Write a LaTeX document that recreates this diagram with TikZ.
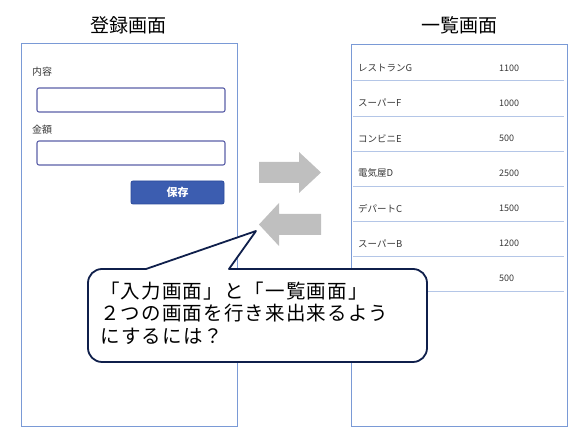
\documentclass[tikz,border=0pt]{standalone}
\usepackage{fontspec}
\setmainfont{Noto Sans CJK JP}
\definecolor{panelblue}{HTML}{7A9AD6}
\definecolor{boxborder}{HTML}{5B5FA8}
\definecolor{btnfill}{HTML}{3C5DB0}
\definecolor{btnborder}{HTML}{2B4A9A}
\definecolor{sepline}{HTML}{B4C6E7}
\definecolor{arrowgray}{HTML}{BFBFBF}
\definecolor{calloutborder}{HTML}{0F1F4B}
\definecolor{smalltext}{HTML}{383838}
\begin{document}
\begin{tikzpicture}[x=1pt,y=1pt,
  panel/.style={draw=panelblue,line width=1pt},
  inbox/.style={draw=boxborder,line width=1.1pt,rounded corners=2pt},
  small/.style={font=\fontsize{9.5}{11}\selectfont,text=smalltext,inner sep=0pt,anchor=west},
  title/.style={font=\fontsize{19}{22}\selectfont,inner sep=0pt},
  sepl/.style={draw=sepline,line width=1pt},
  grayarrow/.style={fill=arrowgray,draw=none},
  callout/.style={draw=calloutborder,fill=white,line width=1.8pt,line join=round},
  bigtext/.style={font=\fontsize{19.5}{23}\selectfont\addfontfeatures{LetterSpace=6},inner sep=0pt,anchor=base west}
]
\useasboundingbox (0,0) rectangle (586,446);
% titles
\node[title] (t1) at (128,421) {登録画面};
\node[title] (t2) at (459,421) {一覧画面};
% left panel
\path[panel] (21,19) rectangle (237,402);
\node[small,font=\fontsize{10}{12}\selectfont] (l1) at (32,374) {内容};
\path[inbox] (37,334) rectangle (225,358);
\node[small,font=\fontsize{10}{12}\selectfont] (l2) at (32,316) {金額};
\path[inbox] (37,281) rectangle (225,305);
\node[fill=btnfill,draw=btnborder,line width=0.8pt,rounded corners=2pt,minimum width=93pt,minimum height=23pt,inner sep=0pt,text=white,font=\fontsize{11}{13}\selectfont\bfseries] (save) at (177.5,253.5) {保存};
% right panel
\path[panel] (351,19) rectangle (567,401);
\foreach \i/\name/\val in {0/レストランG/1100,1/スーパーF/1000,2/コンビニE/500,3/電気屋D/2500,4/デパートC/1500,5/スーパーB/1200,6//500}{
  \pgfmathsetmacro{\ys}{365-35.1*\i}
  \pgfmathsetmacro{\yt}{\ys+13}
  \node[small] (n\i) at (358,\yt) {\name};
  \node[small,font=\fontsize{9}{11}\selectfont] (v\i) at (499,\yt) {\val};
  \path[sepl] (353,\ys) -- (564,\ys);
}
% arrows
\path[grayarrow] (259,263) -- (299,263) -- (299,253) -- (321,273.5) -- (299,294) -- (299,284) -- (259,284) -- cycle;
\path[grayarrow] (321,211) -- (279,211) -- (279,200) -- (259,221.5) -- (279,243) -- (279,232) -- (321,232) -- cycle;
% callout
\path[callout] (146,177) -- (256,215) -- (229,177) -- (413,177) arc[start angle=90,end angle=0,radius=14]
  -- (427,98) arc[start angle=0,end angle=-90,radius=14]
  -- (102,84) arc[start angle=270,end angle=180,radius=14]
  -- (88,163) arc[start angle=180,end angle=90,radius=14] -- cycle;
\node[bigtext] (m1) at (100,147.5) {「入力画面」と「一覧画面」};
\node[bigtext] (m2) at (100,125) {２つの画面を行き来出来るよう};
\node[bigtext] (m3) at (100,102.5) {にするには？};
\end{tikzpicture}
\end{document}
